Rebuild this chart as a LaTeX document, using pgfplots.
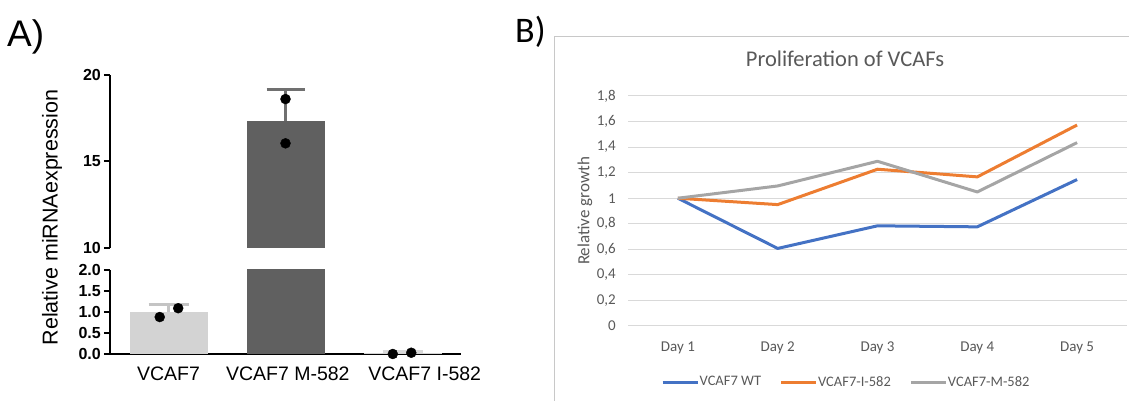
\documentclass[border=0pt]{standalone}
\usepackage{pgfplots}
\pgfplotsset{compat=1.18}
\usepackage{fontspec}
\setmainfont{Liberation Sans}
\newfontfamily\calfont{Carlito}
\definecolor{wt}{HTML}{4472C4}
\definecolor{ii}{HTML}{ED7D31}
\definecolor{mm}{HTML}{A5A5A5}
\definecolor{txtgray}{HTML}{595959}
\definecolor{gridgray}{HTML}{D9D9D9}
\definecolor{boxgray}{HTML}{C8C8C8}
\definecolor{barlight}{HTML}{D3D3D3}
\definecolor{errlight}{HTML}{C4C4C4}
\definecolor{bardark}{HTML}{606060}
\definecolor{errdark}{HTML}{707070}
\begin{document}
\begin{tikzpicture}
\path[use as bounding box] (0,0) rectangle (1129pt,401pt);
% panel labels
\node[anchor=base west, inner sep=0pt, font=\fontsize{37}{40}\selectfont] at (7pt,354pt) {A)};
\node[anchor=base west, inner sep=0pt, font=\calfont\fontsize{36}{40}\selectfont] at (515pt,358pt) {B)};
\node[rotate=90, anchor=center, inner sep=0pt, font=\fontsize{21.5}{25}\selectfont] at (52pt,183.5pt) {Relative miRNAexpression};

% ---------- Panel A: upper part ----------
\begin{axis}[
  at={(110pt,153pt)}, anchor=south west, scale only axis,
  width=351pt, height=173pt,
  xmin=-0.5, xmax=2.5, ymin=10, ymax=20,
  axis y line=left, axis x line=none,
  axis line style={-, line width=2pt, black},
  xtick=\empty,
  ytick={10,15,20}, yticklabels={10,15,20},
  ytick align=outside, major tick length=6pt,
  every tick/.style={draw=black, line width=2pt},
  yticklabel style={font=\fontsize{16}{19}\selectfont\bfseries, inner sep=0pt, anchor=east, xshift=-3pt},
]
\addplot[ybar, bar width=78pt, bar shift=0pt, fill=bardark, draw=none,
  error bars/.cd, y dir=plus, y explicit, error mark=|,
  error bar style={line width=3pt, color=errdark},
  error mark options={line width=3pt, mark size=19pt, color=errdark}]
  coordinates {(1,17.36) +- (0,1.81)};
\addplot[only marks, mark=*, mark size=5pt, black] coordinates {(1,18.61) (1,16.05)};
\end{axis}

% ---------- Panel A: lower part ----------
\begin{axis}[
  at={(110pt,47pt)}, anchor=south west, scale only axis,
  width=351pt, height=84pt,
  xmin=-0.5, xmax=2.5, ymin=0, ymax=2,
  axis lines=left,
  axis line style={-, line width=2pt, black},
  xtick={0,1.02,2.19}, xticklabels={VCAF7, VCAF7 M-582, VCAF7 I-582},
  xticklabel style={font=\fontsize{19.5}{23}\selectfont, anchor=north, inner sep=0pt, yshift=-10pt},
  x tick style={draw=none},
  ytick={0,0.5,1,1.5,2}, yticklabels={0.0,0.5,1.0,1.5,2.0},
  ytick align=outside, major tick length=6pt,
  y tick style={draw=black, line width=2pt},
  yticklabel style={font=\fontsize{16}{19}\selectfont\bfseries, inner sep=0pt, anchor=east, xshift=-3pt},
  clip mode=individual,
]
\addplot[ybar, bar width=78pt, bar shift=0pt, fill=barlight, draw=none,
  error bars/.cd, y dir=plus, y explicit, error mark=|,
  error bar style={line width=3pt, color=errlight},
  error mark options={line width=3pt, mark size=20pt, color=errlight}]
  coordinates {(0,0.99) +- (0,0.18)};
\addplot[ybar, bar width=78pt, bar shift=0pt, fill=bardark, draw=none]
  coordinates {(1,17.36)};
\addplot[ybar, bar width=78pt, bar shift=0pt, fill=barlight, draw=none,
  error bars/.cd, y dir=plus, y explicit, error mark=|,
  error bar style={line width=3pt, color=gridgray},
  error mark options={line width=3pt, mark size=20pt, color=gridgray}]
  coordinates {(2,0.02) +- (0,0.03)};
\addplot[only marks, mark=*, mark size=5pt, black]
  coordinates {(-0.075,0.88) (0.083,1.09) (1.917,0.0) (2.075,0.03)};
\end{axis}

% ---------- Panel B ----------
\draw[boxgray, line width=1pt] (554pt,0pt) -- (554pt,364pt) -- (1129pt,364pt);
\node[anchor=base, inner sep=0pt, font=\calfont\fontsize{22.5}{26}\selectfont, text=txtgray] at (845pt,334pt) {Proliferation of VCAFs};
\begin{axis}[
  at={(628pt,75pt)}, anchor=south west, scale only axis,
  width=499pt, height=230pt,
  xmin=-0.5, xmax=4.5, ymin=0, ymax=1.8,
  axis line style={draw=none}, major tick length=0pt,
  ymajorgrids, grid style={gridgray, line width=1pt},
  xtick={0,1,2,3,4}, xticklabels={Day 1,Day 2,Day 3,Day 4,Day 5},
  ytick={0,0.2,0.4,0.6,0.8,1,1.2,1.4,1.6,1.8},
  yticklabels={0,{0,2},{0,4},{0,6},{0,8},1,{1,2},{1,4},{1,6},{1,8}},
  ticklabel style={font=\calfont\fontsize{15}{18}\selectfont, text=txtgray},
  yticklabel style={inner sep=0pt, anchor=east, xshift=-12pt},
  xticklabel style={inner sep=0pt, anchor=north, yshift=-16pt},
  ylabel={\calfont\fontsize{17}{20}\selectfont Relative growth},
  ylabel style={text=txtgray, at={(axis description cs:-0.0862,0.5)}, anchor=center, inner sep=0pt},
  legend columns=3,
  legend style={at={(axis description cs:0.436,-0.2435)}, anchor=center, draw=none, fill=none,
    font=\calfont\fontsize{14.5}{17}\selectfont, text=txtgray,
    /tikz/every even column/.append style={column sep=18pt}, nodes={inner sep=0.5pt}},
  legend image code/.code={\draw[#1, line width=3pt] (0pt,0pt) -- (35pt,0pt);},
  clip=false,
]
\addplot[wt, line width=3pt, line join=round] coordinates {(0,1.0) (1,0.607) (2,0.784) (3,0.776) (4,1.146)};
\addlegendentry{VCAF7 WT}
\addplot[ii, line width=3pt, line join=round] coordinates {(0,1.0) (1,0.95) (2,1.227) (3,1.167) (4,1.573)};
\addlegendentry{VCAF7-I-582}
\addplot[mm, line width=3pt, line join=round] coordinates {(0,1.0) (1,1.096) (2,1.289) (3,1.049) (4,1.435)};
\addlegendentry{VCAF7-M-582}
\end{axis}
\end{tikzpicture}
\end{document}
